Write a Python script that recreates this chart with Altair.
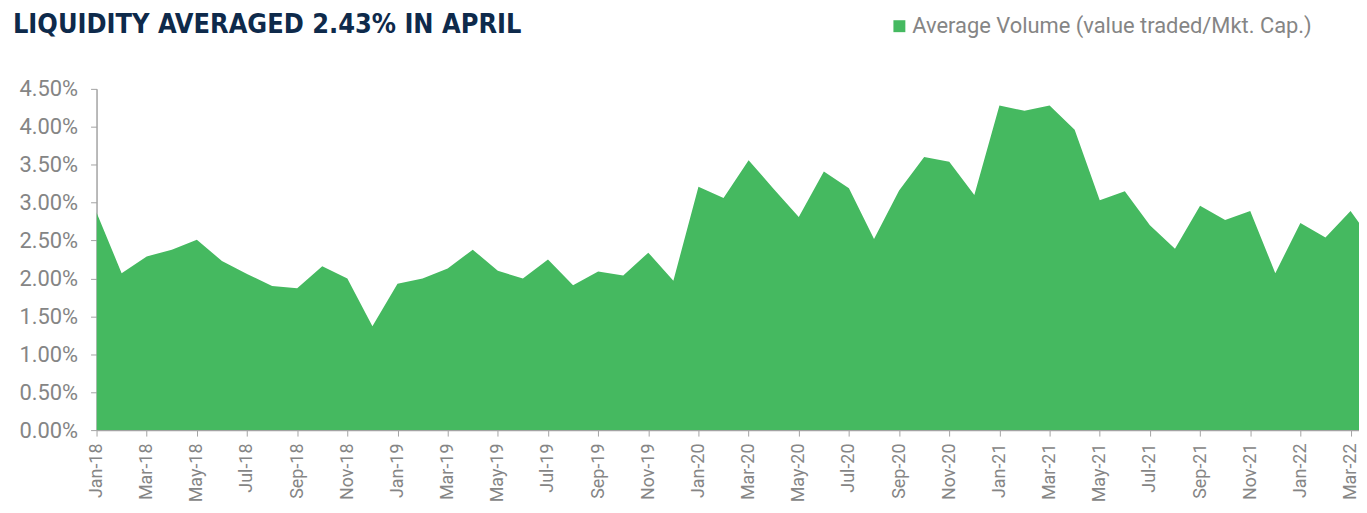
import altair as alt
import pandas as pd

months = [
    "Jan-18", "Feb-18", "Mar-18", "Apr-18", "May-18", "Jun-18", "Jul-18", "Aug-18", "Sep-18", "Oct-18", "Nov-18", "Dec-18",
    "Jan-19", "Feb-19", "Mar-19", "Apr-19", "May-19", "Jun-19", "Jul-19", "Aug-19", "Sep-19", "Oct-19", "Nov-19", "Dec-19",
    "Jan-20", "Feb-20", "Mar-20", "Apr-20", "May-20", "Jun-20", "Jul-20", "Aug-20", "Sep-20", "Oct-20", "Nov-20", "Dec-20",
    "Jan-21", "Feb-21", "Mar-21", "Apr-21", "May-21", "Jun-21", "Jul-21", "Aug-21", "Sep-21", "Oct-21", "Nov-21", "Dec-21",
    "Jan-22", "Feb-22", "Mar-22", "Apr-22",
]
volume_pct = [
    2.87, 2.07, 2.29, 2.38, 2.51, 2.23, 2.06, 1.90, 1.87, 2.16, 2.00, 1.37,
    1.93, 2.00, 2.13, 2.38, 2.10, 2.00, 2.25, 1.91, 2.09, 2.04, 2.34, 1.97,
    3.21, 3.06, 3.56, 3.18, 2.81, 3.41, 3.19, 2.52, 3.16, 3.60, 3.54, 3.10,
    4.28, 4.21, 4.28, 3.96, 3.03, 3.15, 2.70, 2.39, 2.96, 2.77, 2.89, 2.07,
    2.73, 2.54, 2.89, 2.43,
]
y_ticks = [0.0, 0.005, 0.01, 0.015, 0.02, 0.025, 0.03, 0.035, 0.04, 0.045]
series_name = "Average Volume (value traded/Mkt. Cap.)"
title_text = "LIQUIDITY AVERAGED 2.43% IN APRIL"

df = pd.DataFrame({
    "idx": list(range(len(months))),
    "month": months,
    "value": [v / 100 for v in volume_pct],
    "series": [series_name] * len(months),
})

FONT = "Roboto, sans-serif"
TITLE_FONT = "DejaVu Sans Condensed, DejaVu Sans, sans-serif"
GREEN = "#45b960"
GRAY_TXT = "#858585"
GRAY_AX = "#a3a3a3"

label_array = "[" + ",".join("'" + m + "'" for m in months) + "]"

W = 1269
H = 343
x_max = W / 25.21

area = alt.Chart(df).mark_area(clip=True, opacity=1).encode(
    x=alt.X(
        "idx:Q",
        scale=alt.Scale(domain=[0, x_max], nice=False, zero=False),
        axis=alt.Axis(
            values=list(range(0, len(months), 2)),
            labelExpr=label_array + "[datum.value]",
            labelAngle=270,
            labelAlign="right",
            labelBaseline="middle",
            labelFont=FONT,
            labelFontSize=18,
            labelColor=GRAY_TXT,
            labelPadding=7,
            labelOverlap=False,
            labelFlush=False,
            labelBound=False,
            tickSize=6,
            tickColor=GRAY_AX,
            domainColor=GRAY_AX,
            domainWidth=1.5,
            grid=False,
            title=None,
        ),
    ),
    y=alt.Y(
        "value:Q",
        scale=alt.Scale(domain=[0, 0.045], nice=False),
        axis=alt.Axis(
            values=y_ticks,
            format=".2%",
            labelFont=FONT,
            labelFontSize=22,
            labelColor=GRAY_TXT,
            labelPadding=13,
            tickSize=6,
            tickColor=GRAY_AX,
            domainColor=GRAY_AX,
            domainWidth=1.5,
            grid=False,
            title=None,
        ),
    ),
    color=alt.Color(
        "series:N",
        scale=alt.Scale(domain=[series_name], range=[GREEN]),
        legend=alt.Legend(
            orient="none",
            legendX=796,
            legendY=-74,
            title=None,
            symbolType="square",
            symbolSize=144,
            symbolStrokeWidth=0,
            symbolOpacity=1,
            labelFont=FONT,
            labelFontSize=22,
            labelColor=GRAY_TXT,
            labelLimit=0,
            labelOffset=2,
            padding=0,
        ),
    ),
)

title = alt.Chart(pd.DataFrame({"t": [title_text]})).mark_text(
    align="left",
    baseline="alphabetic",
    font=TITLE_FONT,
    fontSize=27,
    fontWeight="bold",
    color="#0e2a4b",
).encode(
    x=alt.value(-84),
    y=alt.value(-56),
    text="t:N",
)

chart = alt.layer(area, title).properties(
    width=W,
    height=H,
    autosize=alt.AutoSizeParams(type="none"),
    padding={"left": 89, "top": 80, "right": 0, "bottom": 74},
    background="white",
).configure_view(stroke=None)

chart.save("out.html", embed_options={"renderer": "svg", "actions": False})
